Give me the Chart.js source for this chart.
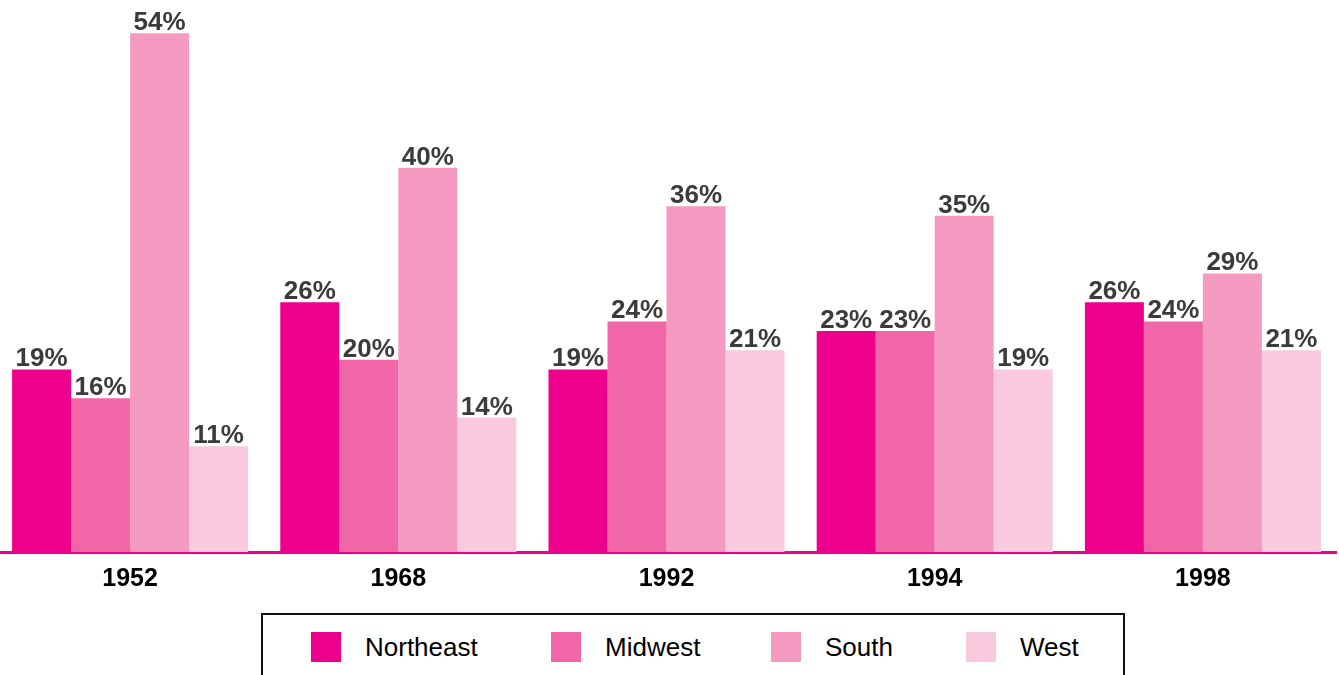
<!DOCTYPE html>
<html>
<head>
<meta charset="utf-8">
<script src="https://cdn.jsdelivr.net/npm/chart.js@4.4.1/dist/chart.umd.min.js"></script>
<style>
    html, body { margin: 0; padding: 0; background: #fff; overflow: hidden; }
    body { width: 1339px; height: 675px; position: relative; font-family: Arial, "Liberation Sans", sans-serif; }
    #wrap { position: absolute; left: -4px; top: 0; width: 1341px; height: 600px; }
    #legend {
        position: absolute; left: 261px; top: 613px; width: 864px; height: 80px;
        border: 2px solid #111; box-sizing: border-box; background: #fff;
    }
    .item { position: absolute; top: 17px; height: 30px; }
    .swatch { position: absolute; left: 0; top: 0; width: 30px; height: 30px; }
    .label { position: absolute; left: 54px; top: 0; line-height: 30px; font-size: 26px; color: #000; white-space: nowrap; }
</style>
</head>
<body>
<div id="wrap"><canvas id="chart"></canvas></div>
<div id="legend"></div>
<script>
// ---------------------------
// Data
// ---------------------------
const years = ["1952", "1968", "1992", "1994", "1998"];
const regions = ["Northeast", "Midwest", "South", "West"];
const northeast = [19, 26, 19, 23, 26];
const midwest = [16, 20, 24, 23, 24];
const south = [54, 40, 36, 35, 29];
const west = [11, 14, 21, 19, 21];
const colors = ["#EC008C", "#F066A6", "#F49AC1", "#F9CADE"];
const legendX = [48, 288, 508, 703];

// value labels above each bar
const valueLabels = {
    id: "valueLabels",
    afterDatasetsDraw(chart) {
        const ctx = chart.ctx;
        ctx.save();
        ctx.font = "bold 26px Arial, 'Liberation Sans', sans-serif";
        ctx.fillStyle = "#3b3b3b";
        ctx.textAlign = "center";
        ctx.textBaseline = "alphabetic";
        chart.data.datasets.forEach((ds, i) => {
            chart.getDatasetMeta(i).data.forEach((bar, j) => {
                ctx.fillText(ds.data[j] + "%", bar.x, bar.y - 3);
            });
        });
        ctx.restore();
    }
};

const series = [northeast, midwest, south, west];

new Chart(document.getElementById("chart"), {
    type: "bar",
    data: {
        labels: years,
        datasets: regions.map((r, i) => ({
            label: r,
            data: series[i],
            backgroundColor: colors[i],
            borderWidth: 0,
            categoryPercentage: 0.88,
            barPercentage: 1.0
        }))
    },
    options: {
        responsive: true,
        maintainAspectRatio: false,
        animation: false,
        layout: { padding: { top: 14, left: 0, right: 0, bottom: 0 } },
        plugins: { legend: { display: false }, tooltip: { enabled: false } },
        scales: {
            x: {
                grid: { display: false, drawTicks: false },
                border: { display: true, color: "#EC008C", width: 3 },
                ticks: {
                    color: "#000",
                    font: { family: "Arial, 'Liberation Sans', sans-serif", size: 25, weight: "bold" },
                    padding: 12
                },
                afterFit(scale) { scale.height = 48; }
            },
            y: {
                display: false,
                min: 0,
                max: 56
            }
        }
    },
    plugins: [valueLabels]
});

// legend
const legend = document.getElementById("legend");
regions.forEach((r, i) => {
    const it = document.createElement("div");
    it.className = "item";
    it.style.left = legendX[i] + "px";
    it.innerHTML = `<div class="swatch" style="background:${colors[i]}"></div><div class="label">${r}</div>`;
    legend.appendChild(it);
});
</script>
</body>
</html>
